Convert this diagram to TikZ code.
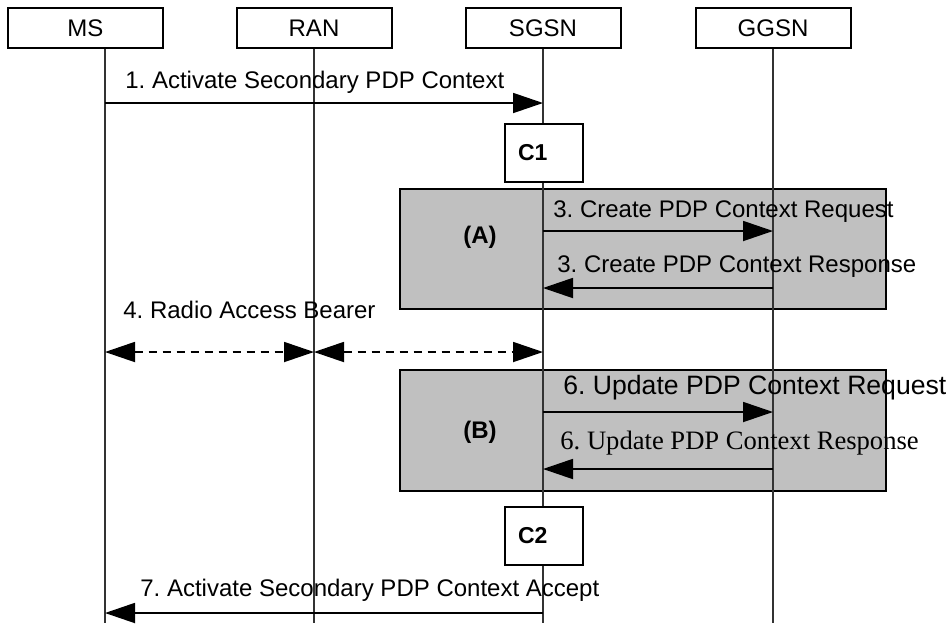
\documentclass[tikz,border=0pt]{standalone}
\usepackage{fontspec}
\setmainfont{Liberation Sans}
\newfontfamily\serifmsg{Liberation Serif}
\usetikzlibrary{arrows.meta, calc}
\definecolor{boxgray}{RGB}{192,192,192}
\frenchspacing

\begin{document}
\begin{tikzpicture}[
        x=0.5pt, y=-0.5pt,
        hdr/.style={rectangle, draw, line width=1pt, minimum width=77.5pt,
                    minimum height=20pt, inner sep=0pt, font=\fontsize{12}{14}\selectfont},
        lifeline/.style={line width=0.55pt, black!80},
        frame/.style={draw, fill=boxgray, line width=1.2pt},
        cbox/.style={rectangle, draw, fill=white, line width=1pt, minimum height=29pt,
                     text width=26pt, inner xsep=6.5pt, align=left,
                     font=\fontsize{11.5}{13}\selectfont\bfseries},
        msg/.style={line width=0.9pt, -{Triangle[length=15pt, width=10pt]}},
        rab/.style={line width=0.9pt, {Triangle[length=15pt, width=10pt]}-{Triangle[length=15pt, width=10pt]},
                    dash pattern=on 4pt off 3pt},
        lbl/.style={anchor=west, inner sep=0pt, font=\fontsize{12}{14}\selectfont},
        biglbl/.style={lbl, font=\fontsize{13.3}{15}\selectfont},
        tag/.style={inner sep=0pt, font=\fontsize{12}{14}\selectfont\bfseries},
    ]
    \useasboundingbox (0,0) rectangle (949,623);

    % ===== Entities =====
    \node[hdr] (MS)   at (85.5,28) {MS};
    \node[hdr] (RAN)  at (314,28)  {RAN};
    \node[hdr] (SGSN) at (543,28)  {SGSN};
    \node[hdr] (GGSN) at (773,28)  {GGSN};

    \coordinate (lMS) at ($(MS.south)+(19.5,0)$);
    \coordinate (lRAN) at (RAN.south);
    \coordinate (lSGSN) at (SGSN.south);
    \coordinate (lGGSN) at (GGSN.south);
    \coordinate (bot) at (0,623);

    % ===== Procedure frames (A) and (B) =====
    \draw[frame] (400,189) rectangle (886,309);
    \draw[frame] (400,370) rectangle (886,491);
    \node[tag] (tA) at (480,237) {(A)};
    \node[tag] (tB) at (480,432) {(B)};

    % lifelines
    \foreach \e in {MS,RAN,SGSN,GGSN} { \draw[lifeline] (l\e) -- (l\e |- bot); }

    % message heights
    \coordinate (y1) at (0,103);
    \coordinate (y3a) at (0,231);
    \coordinate (y3b) at (0,288);
    \coordinate (y4) at (0,352);
    \coordinate (y6a) at (0,412);
    \coordinate (y6b) at (0,469);
    \coordinate (y7) at (0,613);

    % ===== 1. Activate =====
    \node[lbl] (t1) at (125,82) {1. Activate Secondary PDP Context};
    \draw[msg] (lMS |- y1) -- (lSGSN |- y1);

    \node[cbox] (C1) at (544,152.5) {C1};

    % ===== 3. Create PDP Context =====
    \node[lbl] (t3a) at (553,212) {3. Create PDP Context Request};
    \draw[msg] (lSGSN |- y3a) -- (lGGSN |- y3a);
    \node[lbl] (t3b) at (557,267) {3. Create PDP Context Response};
    \draw[msg] (lGGSN |- y3b) -- (lSGSN |- y3b);

    % ===== 4. Radio Access Bearer =====
    \node[lbl] (t4) at (123,310) {4. Radio Access Bearer};
    \draw[rab] (lMS |- y4) -- (lRAN |- y4);
    \draw[rab] (lRAN |- y4) -- (lSGSN |- y4);

    % ===== 6. Update PDP Context =====
    \node[biglbl] (t6a) at (563,388) {6. Update PDP Context Request};
    \draw[msg] (lSGSN |- y6a) -- (lGGSN |- y6a);
    \node[biglbl, font=\fontsize{13.3}{15}\serifmsg] (t6b) at (560,443) {6. Update PDP Context Response};
    \draw[msg] (lGGSN |- y6b) -- (lSGSN |- y6b);

    \node[cbox] (C2) at (544,536) {C2};

    % ===== 7. Accept =====
    \node[lbl] (t7) at (140,590) {7. Activate Secondary PDP Context Accept};
    \draw[msg] (lSGSN |- y7) -- (lMS |- y7);

    \end{tikzpicture}
\end{document}
